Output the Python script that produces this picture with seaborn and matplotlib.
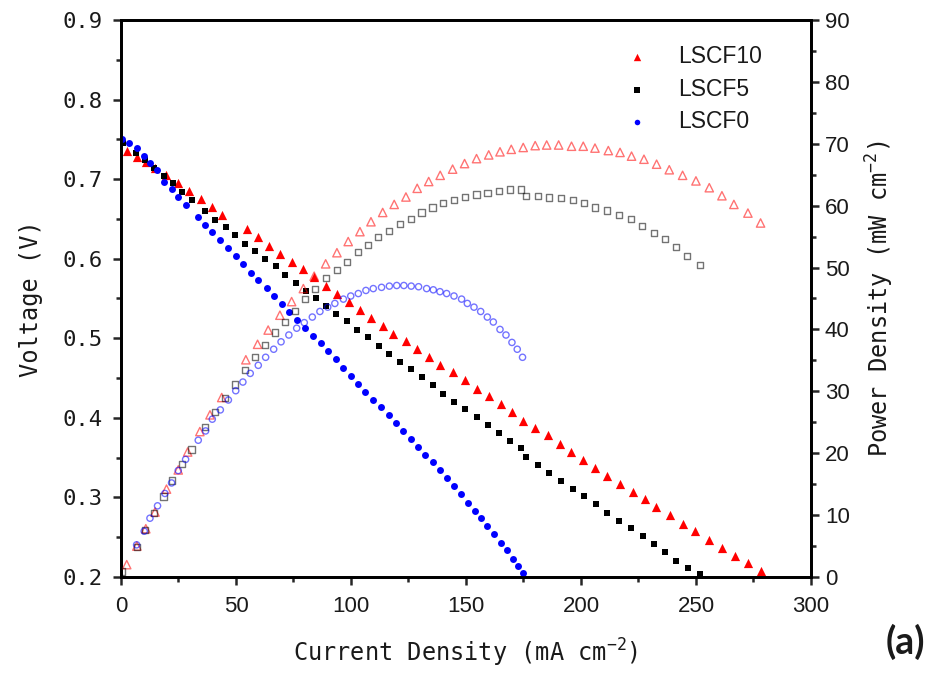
import matplotlib
matplotlib.use("Agg")
import matplotlib.pyplot as plt
from matplotlib.ticker import MultipleLocator
import seaborn as sns

# I-V data: current density (mA cm-2), voltage (V)
i_lscf10 = [2.5, 6.9, 10.8, 14.8, 19.6, 24.7, 29.6, 34.6, 39.4, 44.1,
            54.6, 59.7, 64.3, 69.3, 74.2, 79.1, 84.1, 89.0, 93.9, 99.1,
            103.9, 108.8, 113.8, 118.4, 123.9, 128.8, 133.8, 138.7, 144.2, 149.4,
            154.6, 159.9, 165.1, 170.0, 174.9, 180.1, 185.6, 190.8, 195.8, 201.0,
            206.2, 211.4, 217.0, 222.5, 227.7, 232.6, 238.7, 244.2, 249.7, 255.8,
            261.3, 266.8, 272.6, 278.1]
v_lscf10 = [0.735, 0.728, 0.721, 0.714, 0.705, 0.695, 0.685, 0.675, 0.665, 0.655,
            0.637, 0.627, 0.616, 0.606, 0.596, 0.587, 0.577, 0.566, 0.556, 0.546,
            0.535, 0.525, 0.515, 0.506, 0.497, 0.487, 0.476, 0.466, 0.457, 0.447,
            0.436, 0.427, 0.417, 0.407, 0.396, 0.387, 0.378, 0.367, 0.357, 0.347,
            0.337, 0.327, 0.317, 0.307, 0.298, 0.288, 0.278, 0.267, 0.258, 0.247,
            0.237, 0.227, 0.218, 0.208]

i_lscf5 = [1.0, 6.4, 10.4, 14.5, 18.5, 22.6, 26.7, 31.0, 36.5, 40.9,
           45.5, 49.6, 53.9, 58.3, 62.6, 67.3, 71.3, 75.9, 80.3, 84.6,
           89.0, 93.6, 98.1, 102.7, 107.4, 112.0, 116.7, 121.3, 125.9, 130.9,
           135.5, 140.1, 144.8, 149.7, 154.6, 159.6, 164.5, 169.1, 174.0, 176.1,
           181.3, 186.2, 191.4, 196.4, 201.3, 206.5, 211.4, 216.7, 221.6, 226.8,
           231.7, 236.7, 241.3, 246.5, 251.7]
v_lscf5 = [0.745, 0.733, 0.724, 0.714, 0.704, 0.695, 0.684, 0.674, 0.660, 0.649,
           0.640, 0.630, 0.619, 0.610, 0.600, 0.591, 0.580, 0.570, 0.560, 0.550,
           0.541, 0.530, 0.522, 0.510, 0.501, 0.490, 0.480, 0.470, 0.461, 0.451,
           0.441, 0.430, 0.420, 0.411, 0.401, 0.391, 0.381, 0.371, 0.362, 0.351,
           0.341, 0.331, 0.321, 0.311, 0.302, 0.292, 0.281, 0.271, 0.261, 0.252,
           0.241, 0.231, 0.220, 0.211, 0.204]

i_lscf0 = [0.3, 3.5, 6.8, 10.1, 12.6, 15.5, 18.8, 22.0, 24.9, 28.1,
           33.3, 36.5, 39.7, 43.2, 46.7, 49.9, 53.0, 56.5, 59.7, 63.5,
           66.7, 69.9, 73.0, 76.5, 79.8, 83.3, 86.8, 90.0, 93.3, 96.7,
           99.9, 103.0, 106.2, 109.7, 112.9, 116.4, 119.6, 122.7, 125.9, 129.1,
           132.3, 135.5, 138.7, 141.6, 144.8, 148.0, 150.9, 153.8, 156.7, 159.3,
           162.2, 165.1, 167.7, 170.3, 172.6, 174.6]
v_lscf0 = [0.751, 0.745, 0.739, 0.729, 0.720, 0.711, 0.697, 0.687, 0.678, 0.667,
           0.652, 0.642, 0.633, 0.623, 0.613, 0.603, 0.593, 0.582, 0.573, 0.563,
           0.553, 0.543, 0.533, 0.523, 0.513, 0.503, 0.494, 0.484, 0.474, 0.463,
           0.453, 0.443, 0.433, 0.423, 0.414, 0.404, 0.394, 0.384, 0.373, 0.364,
           0.353, 0.344, 0.334, 0.324, 0.314, 0.304, 0.293, 0.283, 0.274, 0.264,
           0.254, 0.243, 0.234, 0.223, 0.214, 0.205]

# power density curves (mW cm-2)
ip_lscf10 = [2.5, 6.9, 10.8, 14.8, 19.8, 24.9, 29.0, 34.3, 38.7, 43.8,
             54.3, 59.4, 64.0, 69.1, 74.2, 79.3, 84.0, 89.0, 93.9, 98.8,
             103.9, 108.7, 113.8, 118.8, 123.9, 128.8, 133.8, 138.8, 144.2, 149.4,
             154.6, 159.9, 164.8, 169.7, 174.9, 180.1, 185.1, 190.3, 195.9, 201.0,
             206.1, 211.9, 217.0, 222.0, 227.4, 232.9, 238.4, 244.2, 250.0, 255.8,
             261.3, 266.5, 272.6, 278.1]
p_lscf10 = [2.0, 5.0, 7.8, 10.5, 14.2, 17.3, 20.2, 23.5, 26.2, 29.0,
            35.1, 37.6, 39.9, 42.3, 44.5, 46.6, 48.6, 50.6, 52.4, 54.2,
            55.8, 57.4, 58.9, 60.2, 61.4, 62.8, 63.9, 64.9, 65.9, 66.8,
            67.6, 68.2, 68.7, 69.1, 69.4, 69.7, 69.8, 69.8, 69.6, 69.6,
            69.3, 68.9, 68.6, 68.0, 67.5, 66.7, 65.8, 64.9, 64.0, 62.9,
            61.6, 60.2, 58.8, 57.2]

ip_lscf5 = [0.6, 6.8, 10.4, 14.5, 18.5, 22.3, 26.7, 30.7, 36.5, 40.9,
            45.2, 49.6, 53.9, 58.3, 62.6, 67.0, 71.3, 75.7, 80.0, 84.5,
            89.0, 93.8, 98.4, 102.9, 107.5, 111.9, 116.7, 121.3, 126.1, 130.7,
            135.5, 140.1, 144.9, 149.7, 154.6, 159.4, 164.2, 169.1, 174.0, 176.1,
            181.3, 186.2, 191.3, 196.4, 201.3, 206.2, 211.4, 216.7, 221.6, 226.5,
            231.7, 236.5, 241.3, 246.2, 251.7]
p_lscf5 = [0.9, 4.9, 7.6, 10.3, 13.0, 15.6, 18.3, 20.6, 24.3, 26.7,
           28.9, 31.1, 33.4, 35.5, 37.5, 39.5, 41.2, 43.0, 44.9, 46.5,
           48.3, 49.6, 50.9, 52.5, 53.6, 54.9, 55.9, 57.0, 57.9, 58.9,
           59.7, 60.4, 60.9, 61.4, 61.8, 62.1, 62.4, 62.6, 62.6, 61.6,
           61.6, 61.3, 61.2, 60.9, 60.4, 59.7, 59.2, 58.5, 57.8, 56.7,
           55.6, 54.6, 53.3, 51.9, 50.4]

ip_lscf0 = [6.8, 10.1, 12.6, 15.9, 19.1, 22.0, 24.9, 28.1, 33.6, 36.8,
            39.7, 43.2, 46.7, 49.9, 53.0, 56.2, 59.7, 62.9, 66.4, 69.6,
            73.0, 76.4, 79.7, 83.2, 86.5, 89.9, 93.0, 96.7, 99.9, 103.2,
            106.5, 109.7, 113.3, 116.7, 119.9, 123.0, 126.2, 129.4, 132.9, 135.8,
            138.7, 141.6, 144.8, 148.1, 150.6, 153.5, 156.4, 159.3, 161.9, 164.8,
            167.4, 170.0, 172.3, 174.6]
p_lscf0 = [5.2, 7.4, 9.5, 11.5, 13.5, 15.2, 17.2, 19.0, 22.1, 23.6,
           25.5, 27.0, 28.6, 30.1, 31.5, 32.9, 34.2, 35.5, 36.8, 38.0,
           39.1, 40.2, 41.1, 42.0, 42.9, 43.6, 44.2, 44.9, 45.4, 45.8,
           46.3, 46.6, 46.8, 47.0, 47.1, 47.1, 47.0, 46.9, 46.6, 46.4,
           46.1, 45.8, 45.4, 44.9, 44.2, 43.6, 42.9, 42.0, 41.2, 40.0,
           39.1, 37.9, 36.8, 35.5]

x_ticks = [0, 50, 100, 150, 200, 250, 300]
v_ticks = [0.2, 0.3, 0.4, 0.5, 0.6, 0.7, 0.8, 0.9]
v_tick_labels = ["0.2", "0.3", "0.4", "0.5", "0.6", "0.7", "0.8", "0.9"]
p_ticks = [0, 10, 20, 30, 40, 50, 60, 70, 80, 90]

sns.set_style("ticks")
plt.rcParams["font.family"] = ["Liberation Sans", "DejaVu Sans"]
plt.rcParams["mathtext.default"] = "regular"
mono = "DejaVu Sans Mono"
ink = "#1a1a1a"

fig = plt.figure(figsize=(9.32, 6.77), dpi=100)
ax = fig.add_axes([0.1298, 0.1477, 0.7403, 0.8228])
ax2 = ax.twinx()

series = [
    ("LSCF10", i_lscf10, v_lscf10, ip_lscf10, p_lscf10, "^", "#ff0000", 44, 36),
    ("LSCF5", i_lscf5, v_lscf5, ip_lscf5, p_lscf5, "s", "#000000", 24, 20),
    ("LSCF0", i_lscf0, v_lscf0, ip_lscf0, p_lscf0, "o", "#0000ff", 25, 20),
]
for name, iv, v, ip, p, mk, c, s_fill, s_open in series:
    sns.scatterplot(x=iv, y=v, ax=ax, marker=mk, color=c, s=s_fill,
                    linewidth=0, label=name, zorder=3)
    sns.scatterplot(x=ip, y=p, ax=ax2, marker=mk, color=c, facecolor="none",
                    edgecolor=c, alpha=0.55, s=s_open, linewidth=1.0, zorder=3)

ax.set_xlim(0, 300)
ax.set_ylim(0.2, 0.9)
ax2.set_ylim(0, 90)
ax.set_xticks(x_ticks)
ax.set_yticks(v_ticks)
ax.set_yticklabels(v_tick_labels, fontfamily=mono)
ax2.set_yticks(p_ticks)
ax.xaxis.set_minor_locator(MultipleLocator(25))
ax.yaxis.set_minor_locator(MultipleLocator(0.05))
ax2.yaxis.set_minor_locator(MultipleLocator(5))

for a in (ax, ax2):
    for sp in a.spines.values():
        sp.set_linewidth(2.0)
        sp.set_color("black")
    a.grid(False)

ax.tick_params(which="major", direction="out", length=6, width=1.8,
               labelsize=16, labelcolor=ink)
ax.tick_params(which="minor", direction="out", length=3.5, width=1.8)
ax.tick_params(axis="x", pad=8)
ax.tick_params(axis="y", pad=7)
ax.tick_params(top=False, right=False, which="both")
ax2.tick_params(which="major", direction="out", length=6, width=1.8,
                labelsize=16, labelcolor=ink, pad=4)
ax2.tick_params(which="minor", direction="out", length=3.5, width=1.8)

ax.set_xlabel("Current Density (mA cm$^{-2}$)", fontfamily=mono, fontsize=17,
              color=ink, labelpad=14)
ax.set_ylabel("Voltage (V)", fontfamily=mono, fontsize=17, color=ink, labelpad=14)
ax2.set_ylabel("Power Density (mW cm$^{-2}$)", fontfamily=mono, fontsize=17,
               color=ink, labelpad=10)

leg = ax.legend(loc="upper left", bbox_to_anchor=(0.714, 0.955), frameon=False,
                fontsize=16.5, handletextpad=0.8, labelspacing=0.42,
                borderpad=0, borderaxespad=0, markerscale=0.8)
for t in leg.get_texts():
    t.set_color(ink)

fig.text(0.9925, 0.052, "(a)", ha="right", va="center", fontsize=27,
         fontweight="bold", family="Lato", color=ink)

fig.savefig("out.png", dpi=100)
